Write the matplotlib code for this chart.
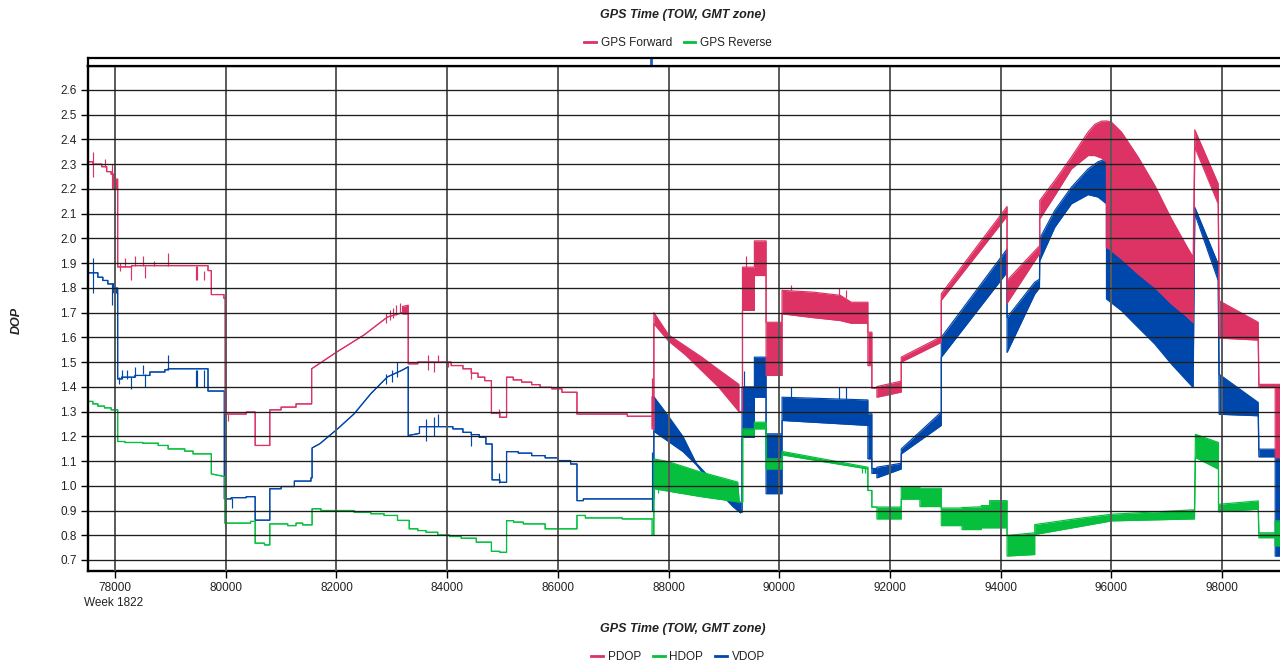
import matplotlib
matplotlib.use("Agg")
import matplotlib.pyplot as plt
from matplotlib.lines import Line2D

plt.rcParams["font.family"] = ["Liberation Sans", "DejaVu Sans"]

# ---- data: (TOW, upper, lower) envelopes ----
pdop_rows = [
    (77512, 2.31, 2.31), (77600, 2.31, 2.31), (77600, 2.30, 2.30),
    (77760, 2.30, 2.30), (77760, 2.29, 2.29), (77850, 2.29, 2.29),
    (77850, 2.27, 2.27), (77930, 2.27, 2.27), (77930, 2.26, 2.26),
    (77975, 2.26, 2.26), (77975, 2.24, 2.20), (78048, 2.24, 2.20),
    (78048, 1.885, 1.885), (78300, 1.885, 1.885), (78300, 1.89, 1.89),
    (79680, 1.89, 1.89), (79680, 1.87, 1.87), (79740, 1.87, 1.87),
    (79740, 1.773, 1.773), (79968, 1.773, 1.773), (79968, 1.758, 1.758),
    (79990, 1.758, 1.758), (79990, 1.29, 1.29), (80370, 1.29, 1.29),
    (80370, 1.298, 1.298), (80532, 1.298, 1.298), (80532, 1.163, 1.163),
    (80796, 1.163, 1.163), (80796, 1.307, 1.307), (81000, 1.307, 1.307),
    (81000, 1.318, 1.318), (81270, 1.318, 1.318), (81270, 1.331, 1.331),
    (81552, 1.331, 1.331), (81552, 1.473, 1.473), (82000, 1.54, 1.54),
    (82500, 1.61, 1.61), (82920, 1.682, 1.682), (83194, 1.70, 1.70),
    (83194, 1.725, 1.695), (83297, 1.73, 1.695), (83297, 1.493, 1.493),
    (83470, 1.493, 1.493), (83470, 1.50, 1.50), (84073, 1.50, 1.50),
    (84073, 1.486, 1.486), (84285, 1.486, 1.486), (84285, 1.473, 1.473),
    (84436, 1.473, 1.473), (84436, 1.455, 1.455), (84557, 1.455, 1.455),
    (84557, 1.439, 1.439), (84679, 1.439, 1.439), (84679, 1.425, 1.425),
    (84800, 1.425, 1.425), (84800, 1.293, 1.293), (84951, 1.293, 1.293),
    (84951, 1.277, 1.277), (85073, 1.277, 1.277), (85073, 1.439, 1.439),
    (85194, 1.439, 1.439), (85194, 1.428, 1.428), (85345, 1.428, 1.428),
    (85345, 1.419, 1.419), (85527, 1.419, 1.419), (85527, 1.409, 1.409),
    (85679, 1.409, 1.409), (85679, 1.398, 1.398), (85891, 1.398, 1.398),
    (85891, 1.392, 1.392), (86073, 1.392, 1.392), (86073, 1.378, 1.378),
    (86345, 1.378, 1.378), (86345, 1.29, 1.29), (87254, 1.29, 1.29),
    (87254, 1.281, 1.281), (87700, 1.281, 1.281), (87700, 1.36, 1.23),
    (87734, 1.36, 1.23), (87734, 1.70, 1.655), (88000, 1.61, 1.585),
    (88300, 1.565, 1.53), (88600, 1.52, 1.465), (88900, 1.47, 1.40),
    (89270, 1.41, 1.30), (89270, 1.30, 1.30), (89335, 1.30, 1.30),
    (89335, 1.884, 1.709), (89550, 1.884, 1.709), (89550, 1.99, 1.85),
    (89761, 1.99, 1.85), (89761, 1.661, 1.446), (90050, 1.661, 1.446),
    (90050, 1.79, 1.695), (90600, 1.783, 1.68), (91100, 1.77, 1.668),
    (91300, 1.742, 1.657), (91600, 1.742, 1.657), (91600, 1.621, 1.486),
    (91672, 1.621, 1.486), (91672, 1.395, 1.395), (91763, 1.395, 1.395),
    (91763, 1.401, 1.358), (92203, 1.423, 1.379), (92203, 1.52, 1.50),
    (92926, 1.603, 1.58), (92926, 1.776, 1.75), (94114, 2.129, 2.09),
    (94114, 1.83, 1.738), (94675, 1.964, 1.93), (94705, 1.97, 1.94),
    (94705, 2.153, 2.079), (94976, 2.234, 2.173), (95277, 2.329, 2.281),
    (95578, 2.43, 2.335), (95699, 2.461, 2.335), (95819, 2.474, 2.325),
    (95910, 2.475, 2.308), (95910, 2.475, 1.964), (96000, 2.47, 1.95),
    (96181, 2.43, 1.917), (96482, 2.329, 1.856), (96783, 2.214, 1.802),
    (97084, 2.079, 1.735), (97386, 1.958, 1.68), (97476, 1.924, 1.66),
    (97506, 2.439, 2.369), (97928, 2.221, 2.14), (97946, 1.748, 1.597),
    (98651, 1.661, 1.589), (98663, 1.41, 1.397), (98958, 1.41, 1.397),
    (98958, 1.41, 1.114), (99045, 1.41, 1.114),
]

hdop_rows = [
    (77512, 1.341, 1.341), (77600, 1.341, 1.341), (77600, 1.331, 1.331),
    (77690, 1.331, 1.331), (77690, 1.322, 1.322), (77810, 1.322, 1.322),
    (77810, 1.315, 1.315), (77930, 1.315, 1.315), (77930, 1.307, 1.307),
    (78048, 1.307, 1.307), (78048, 1.179, 1.179), (78180, 1.179, 1.179),
    (78180, 1.175, 1.175), (78500, 1.175, 1.175), (78500, 1.172, 1.172),
    (78780, 1.172, 1.172), (78780, 1.163, 1.163), (78960, 1.163, 1.163),
    (78960, 1.149, 1.149), (79260, 1.149, 1.149), (79260, 1.14, 1.14),
    (79410, 1.14, 1.14), (79410, 1.129, 1.129), (79740, 1.129, 1.129),
    (79740, 1.048, 1.048), (79986, 1.037, 1.037), (79986, 0.849, 0.849),
    (80450, 0.849, 0.849), (80450, 0.856, 0.856), (80532, 0.856, 0.856),
    (80532, 0.768, 0.768), (80700, 0.768, 0.768), (80700, 0.761, 0.761),
    (80796, 0.761, 0.761), (80796, 0.846, 0.846), (81120, 0.846, 0.846),
    (81120, 0.839, 0.839), (81270, 0.839, 0.839), (81270, 0.849, 0.849),
    (81390, 0.849, 0.849), (81390, 0.842, 0.842), (81560, 0.842, 0.842),
    (81560, 0.907, 0.907), (81720, 0.907, 0.907), (81720, 0.90, 0.90),
    (82320, 0.90, 0.90), (82320, 0.893, 0.893), (82620, 0.893, 0.893),
    (82620, 0.887, 0.887), (82860, 0.887, 0.887), (82860, 0.88, 0.88),
    (83103, 0.88, 0.88), (83103, 0.86, 0.86), (83315, 0.86, 0.86),
    (83315, 0.826, 0.826), (83470, 0.826, 0.826), (83470, 0.819, 0.819),
    (83618, 0.819, 0.819), (83618, 0.812, 0.812), (83830, 0.812, 0.812),
    (83830, 0.801, 0.801), (84042, 0.801, 0.801), (84042, 0.795, 0.795),
    (84255, 0.795, 0.795), (84255, 0.788, 0.788), (84527, 0.788, 0.788),
    (84527, 0.772, 0.772), (84800, 0.772, 0.772), (84800, 0.735, 0.735),
    (84951, 0.735, 0.735), (84951, 0.731, 0.731), (85073, 0.731, 0.731),
    (85073, 0.859, 0.859), (85200, 0.859, 0.859), (85200, 0.853, 0.853),
    (85376, 0.853, 0.853), (85376, 0.846, 0.846), (85770, 0.846, 0.846),
    (85770, 0.826, 0.826), (86345, 0.826, 0.826), (86345, 0.88, 0.88),
    (86497, 0.88, 0.88), (86497, 0.87, 0.87), (87163, 0.87, 0.87),
    (87163, 0.866, 0.866), (87700, 0.866, 0.866), (87700, 0.866, 0.80),
    (87734, 0.866, 0.80), (87734, 1.109, 0.988), (88000, 1.097, 0.978),
    (88560, 1.057, 0.957), (89248, 1.015, 0.935), (89278, 0.934, 0.934),
    (89339, 0.934, 0.934), (89339, 1.23, 1.203), (89550, 1.23, 1.203),
    (89550, 1.257, 1.23), (89761, 1.257, 1.23), (89761, 1.109, 1.068),
    (90050, 1.109, 1.068), (90050, 1.139, 1.125), (91600, 1.075, 1.068),
    (91600, 0.981, 0.981), (91672, 0.981, 0.981), (91672, 0.914, 0.914),
    (91763, 0.914, 0.914), (91763, 0.914, 0.866), (92203, 0.914, 0.866),
    (92203, 0.994, 0.946), (92540, 0.994, 0.946), (92540, 0.99, 0.916),
    (92926, 0.99, 0.916), (92926, 0.91, 0.839), (93300, 0.91, 0.839),
    (93300, 0.912, 0.823), (93650, 0.915, 0.823), (93650, 0.92, 0.83),
    (93800, 0.92, 0.83), (93800, 0.94, 0.83), (94114, 0.94, 0.83),
    (94114, 0.799, 0.716), (94614, 0.81, 0.722), (94614, 0.843, 0.803),
    (95300, 0.865, 0.83), (96000, 0.885, 0.858), (97500, 0.903, 0.866),
    (97518, 1.208, 1.114), (97934, 1.175, 1.067), (97934, 0.925, 0.895),
    (98651, 0.939, 0.905), (98663, 0.81, 0.79), (98958, 0.81, 0.79),
    (98958, 0.858, 0.757), (99045, 0.858, 0.757),
]

vdop_rows = [
    (77512, 1.861, 1.861), (77690, 1.861, 1.861), (77690, 1.843, 1.843),
    (77780, 1.843, 1.843), (77780, 1.83, 1.83), (77870, 1.83, 1.83),
    (77870, 1.816, 1.816), (77975, 1.816, 1.816), (77975, 1.80, 1.78),
    (78048, 1.80, 1.78), (78048, 1.432, 1.432), (78120, 1.432, 1.432),
    (78120, 1.439, 1.439), (78360, 1.439, 1.439), (78360, 1.446, 1.446),
    (78630, 1.446, 1.446), (78630, 1.46, 1.46), (78900, 1.46, 1.46),
    (78900, 1.469, 1.469), (78960, 1.469, 1.469), (78960, 1.473, 1.473),
    (79680, 1.473, 1.473), (79680, 1.383, 1.383), (79975, 1.383, 1.383),
    (79975, 0.947, 0.947), (80100, 0.947, 0.947), (80100, 0.952, 0.952),
    (80370, 0.952, 0.952), (80370, 0.956, 0.956), (80532, 0.956, 0.956),
    (80532, 0.861, 0.861), (80796, 0.861, 0.861), (80796, 0.988, 0.988),
    (81000, 0.988, 0.988), (81000, 0.997, 0.997), (81240, 0.997, 0.997),
    (81240, 1.019, 1.019), (81540, 1.019, 1.019), (81540, 1.032, 1.032),
    (81560, 1.032, 1.032), (81560, 1.153, 1.153), (81700, 1.17, 1.17),
    (82020, 1.23, 1.23), (82320, 1.291, 1.291), (82620, 1.372, 1.372),
    (82920, 1.44, 1.44), (83194, 1.468, 1.468), (83297, 1.481, 1.481),
    (83297, 1.203, 1.203), (83500, 1.212, 1.212), (83500, 1.239, 1.239),
    (84103, 1.239, 1.239), (84103, 1.23, 1.23), (84285, 1.23, 1.23),
    (84285, 1.216, 1.216), (84436, 1.216, 1.216), (84436, 1.207, 1.207),
    (84580, 1.207, 1.207), (84580, 1.196, 1.196), (84700, 1.196, 1.196),
    (84700, 1.169, 1.169), (84812, 1.169, 1.169), (84812, 1.024, 1.024),
    (84951, 1.024, 1.024), (84951, 1.014, 1.014), (85073, 1.014, 1.014),
    (85073, 1.138, 1.138), (85285, 1.138, 1.138), (85285, 1.132, 1.132),
    (85527, 1.132, 1.132), (85527, 1.122, 1.122), (85770, 1.122, 1.122),
    (85770, 1.113, 1.113), (86000, 1.113, 1.113), (86000, 1.102, 1.102),
    (86230, 1.102, 1.102), (86230, 1.088, 1.088), (86345, 1.088, 1.088),
    (86345, 0.94, 0.94), (86460, 0.94, 0.94), (86460, 0.947, 0.947),
    (87734, 0.947, 0.947), (87734, 1.36, 1.22), (87960, 1.293, 1.185),
    (88260, 1.199, 1.138), (88500, 1.091, 1.085), (88800, 1.02, 1.00),
    (89166, 0.95, 0.915), (89300, 0.93, 0.89), (89300, 0.893, 0.893),
    (89327, 0.893, 0.893), (89327, 1.40, 1.196), (89550, 1.40, 1.196),
    (89550, 1.52, 1.358), (89761, 1.52, 1.358), (89761, 1.21, 0.968),
    (90050, 1.21, 0.968), (90050, 1.358, 1.264), (91600, 1.347, 1.244),
    (91600, 1.291, 1.109), (91672, 1.291, 1.109), (91672, 1.07, 1.05),
    (91763, 1.07, 1.05), (91763, 1.075, 1.032), (92203, 1.091, 1.068),
    (92203, 1.149, 1.129), (92926, 1.298, 1.244), (92926, 1.60, 1.52),
    (94114, 1.957, 1.863), (94114, 1.68, 1.539), (94614, 1.823, 1.775),
    (94700, 1.835, 1.80), (94705, 2.0, 1.91), (94976, 2.113, 2.045),
    (95277, 2.207, 2.14), (95578, 2.281, 2.177), (95760, 2.31, 2.167),
    (95910, 2.322, 2.14), (95910, 1.964, 1.755), (96181, 1.917, 1.708),
    (96482, 1.856, 1.64), (96783, 1.802, 1.573), (97084, 1.735, 1.492),
    (97476, 1.657, 1.397), (97506, 2.126, 2.10), (97928, 1.897, 1.83),
    (97946, 1.451, 1.289), (98651, 1.337, 1.283), (98663, 1.148, 1.117),
    (98958, 1.148, 1.117), (98958, 1.114, 0.716), (99045, 1.114, 0.716),
]

# short outliers: (TOW, low, high)
pdop_spikes = [
    (77598, 2.25, 2.35), (77820, 2.29, 2.32), (77940, 2.20, 2.30),
    (78090, 1.87, 1.90), (78180, 1.885, 1.92), (78282, 1.83, 1.89),
    (78360, 1.89, 1.93), (78498, 1.89, 1.93), (78540, 1.84, 1.89),
    (78700, 1.89, 1.91), (78960, 1.89, 1.94), (79460, 1.83, 1.89),
    (79480, 1.83, 1.89), (79602, 1.83, 1.87), (80050, 1.26, 1.29),
    (82900, 1.66, 1.70), (82960, 1.67, 1.71), (83020, 1.68, 1.72),
    (83080, 1.69, 1.73), (83150, 1.70, 1.74), (83648, 1.47, 1.53),
    (83758, 1.46, 1.50), (83830, 1.50, 1.53), (84020, 1.48, 1.50),
    (84424, 1.43, 1.47), (84940, 1.28, 1.31), (87704, 1.24, 1.434),
    (89390, 1.88, 1.93), (90213, 1.79, 1.81), (91087, 1.77, 1.80),
    (91208, 1.76, 1.79),
]
hdop_spikes = [
    (79990, 0.833, 0.849), (87800, 0.97, 0.99), (91500, 1.05, 1.07),
    (91550, 1.05, 1.07),
]
vdop_spikes = [
    (77598, 1.78, 1.92), (77940, 1.73, 1.82), (78072, 1.41, 1.44),
    (78120, 1.43, 1.47), (78210, 1.43, 1.47), (78282, 1.39, 1.44),
    (78360, 1.44, 1.48), (78498, 1.45, 1.49), (78540, 1.40, 1.45),
    (78960, 1.47, 1.53), (79460, 1.40, 1.47), (79480, 1.40, 1.47),
    (79602, 1.40, 1.47), (80118, 0.91, 0.95), (82900, 1.41, 1.45),
    (83000, 1.42, 1.47), (83100, 1.44, 1.50), (83618, 1.18, 1.27),
    (83758, 1.20, 1.28), (83830, 1.24, 1.29), (84430, 1.16, 1.21),
    (84940, 1.01, 1.05), (87704, 0.90, 1.138), (87725, 0.90, 1.08),
    (89360, 1.40, 1.466), (90213, 1.358, 1.40), (91087, 1.35, 1.40),
    (91208, 1.35, 1.40),
]

gps_marker_tow = 87686
x_ticks = list(range(78000, 98001, 2000))
y_ticks = [0.7, 0.8, 0.9, 1.0, 1.1, 1.2, 1.3, 1.4, 1.5, 1.6, 1.7, 1.8, 1.9,
           2.0, 2.1, 2.2, 2.3, 2.4, 2.5, 2.6]

PINK = "#DC3264"
GREEN = "#05BF3D"
BLUE = "#0047AB"
TXT = "#222222"

fig = plt.figure(figsize=(12.8, 6.66), dpi=100)
W, H = 1280, 666
ax = fig.add_axes([88 / W, 95 / H, 1 - 88 / W, (571 - 66) / H])
ax_top = fig.add_axes([88 / W, (H - 66) / H, 1 - 88 / W, 8 / H])


def draw_series(rows, spikes, color, z):
    xs = [r[0] for r in rows]
    hi = [r[1] for r in rows]
    lo = [r[2] for r in rows]
    ax.fill_between(xs, lo, hi, color=color, lw=0, zorder=z)
    ax.plot(xs, hi, color=color, lw=0.85, zorder=z)
    ax.plot(xs, lo, color=color, lw=0.85, zorder=z)
    ax.vlines([s[0] for s in spikes], [s[1] for s in spikes],
              [s[2] for s in spikes], color=color, lw=0.85, zorder=z)


draw_series(vdop_rows, vdop_spikes, BLUE, 1.0)
draw_series(pdop_rows, pdop_spikes, PINK, 1.2)
draw_series(hdop_rows, hdop_spikes, GREEN, 1.4)

ax.set_xlim(77512, 99045)
ax.set_ylim(0.6555, 2.697)
ax.set_xticks(x_ticks)
ax.set_yticks(y_ticks)
ax.set_yticklabels([f"{v:.1f}" for v in y_ticks])
ax.tick_params(axis="both", direction="out", length=5, width=1,
               color="black", labelsize=8.5, labelcolor=TXT, pad=3)
ax.set_axisbelow(False)
ax.xaxis.grid(True, color="#5a5a5a", lw=1.4, zorder=3)
ax.yaxis.grid(True, color="#1e1e1e", lw=0.95, zorder=3)
for side in ["left", "bottom", "top"]:
    ax.spines[side].set_linewidth(1.7)
    ax.spines[side].set_color("black")
ax.spines["right"].set_visible(False)

ax_top.set_xlim(77512, 99045)
ax_top.set_ylim(0, 1)
ax_top.set_xticks([])
ax_top.set_yticks([])
for side in ["left", "top", "bottom"]:
    ax_top.spines[side].set_linewidth(1.6)
ax_top.spines["right"].set_visible(False)
ax_top.vlines([gps_marker_tow], 0.05, 0.95, color="#1a5fd0", lw=2)

# texts
title_kw = dict(fontsize=9, fontweight="bold", fontstyle="italic",
                color=TXT, ha="center", va="center")
fig.text(683 / W, 1 - 15 / H, "GPS Time (TOW, GMT zone)", **title_kw)
fig.text(683 / W, 1 - 629 / H, "GPS Time (TOW, GMT zone)", **title_kw)
fig.text(17 / W, 1 - 320 / H, "DOP", rotation=90, **title_kw)
fig.text(84 / W, 1 - 603 / H, "Week 1822", fontsize=8.5, color=TXT,
         ha="left", va="center")

top_handles = [Line2D([], [], color=PINK, lw=2), Line2D([], [], color=GREEN, lw=2)]
fig.legend(top_handles, ["GPS Forward", "GPS Reverse"], loc="center",
           bbox_to_anchor=(678 / W, 1 - 43 / H), ncol=2, frameon=False,
           fontsize=8.5, handlelength=1.0, handletextpad=0.4,
           columnspacing=1.0, labelcolor=TXT)
bot_handles = [Line2D([], [], color=PINK, lw=2), Line2D([], [], color=GREEN, lw=2),
               Line2D([], [], color=BLUE, lw=2)]
fig.legend(bot_handles, ["PDOP", "HDOP", "VDOP"], loc="center",
           bbox_to_anchor=(678 / W, 1 - 657 / H), ncol=3, frameon=False,
           fontsize=8.5, handlelength=1.0, handletextpad=0.4,
           columnspacing=1.0, labelcolor=TXT)

fig.savefig("out.png", dpi=100)
